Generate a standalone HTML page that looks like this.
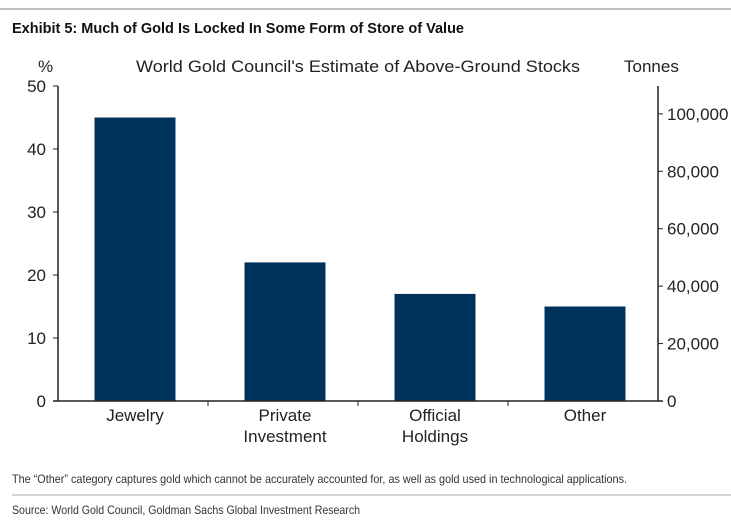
<!DOCTYPE html>
<html><head><meta charset="utf-8"><style>
body{margin:0;background:#fff;width:731px;height:530px;overflow:hidden;font-family:"Liberation Sans",Arial,sans-serif}
svg{display:block}
</style></head><body>
<svg id="chart" width="731" height="530">
<line x1="0" y1="9" x2="731" y2="9" stroke="#aaa" stroke-width="1.5"/>
<text x="12" y="33" font-size="15" font-weight="bold" fill="#111" textLength="452" lengthAdjust="spacingAndGlyphs">Exhibit 5: Much of Gold Is Locked In Some Form of Store of Value</text>
<text x="136" y="72" font-size="17" fill="#222" textLength="444" lengthAdjust="spacingAndGlyphs">World Gold Council's Estimate of Above-Ground Stocks</text>
<text x="38" y="72" font-size="17" fill="#222">%</text>
<text x="624" y="72" font-size="17" fill="#222">Tonnes</text>
<g id="plot"></g>
<text x="12" y="483" font-size="12" fill="#333" textLength="615" lengthAdjust="spacingAndGlyphs">The “Other” category captures gold which cannot be accurately accounted for, as well as gold used in technological applications.</text>
<line x1="12" y1="495" x2="731" y2="495" stroke="#aaa" stroke-width="1"/>
<text x="12" y="514" font-size="12" fill="#333" textLength="348" lengthAdjust="spacingAndGlyphs">Source: World Gold Council, Goldman Sachs Global Investment Research</text>
</svg>
<script>
const categories=[["Jewelry"],["Private","Investment"],["Official","Holdings"],["Other"]];
const values=[45,22,17,15];
const leftTicks=[0,10,20,30,40,50];
const rightTicks=[0,20000,40000,60000,80000,100000];
const rightTickLabels=["0","20,000","40,000","60,000","80,000","100,000"];

const NS="http://www.w3.org/2000/svg";
const g=document.getElementById("plot");
const X0=58,X1=658,Y0=401,Y1=86,LMAX=50,RMAX=109700;
const yL=v=>Y0-(v/LMAX)*(Y0-Y1);
const yR=v=>Y0-(v/RMAX)*(Y0-Y1);
const band=(X1-X0)/categories.length;
function mk(t,a){const e=document.createElementNS(NS,t);for(const k in a)e.setAttribute(k,a[k]);g.appendChild(e);return e;}

values.forEach((v,i)=>{
  const cx=X0+band*(i+0.5)+2,w=81;
  const r=mk("rect",{x:cx-w/2,y:yL(v),width:w,height:Y0-yL(v),fill:"#00335c"});
  
  
  categories[i].forEach((ln,j)=>{
    const t=mk("text",{x:cx,y:Y0+20+j*21,"font-size":17,"text-anchor":"middle",fill:"#222"});
    t.textContent=ln;
    
    
  });
});
let a=mk("line",{x1:X0,y1:Y1,x2:X0,y2:Y0,stroke:"#222","stroke-width":1.5});


a=mk("line",{x1:X1,y1:Y1,x2:X1,y2:Y0,stroke:"#222","stroke-width":1.5});


a=mk("line",{x1:X0-5,y1:Y0,x2:X1+5,y2:Y0,stroke:"#222","stroke-width":1.5});


for(let i=1;i<categories.length;i++){
  const tk=mk("line",{x1:X0+band*i,y1:Y0,x2:X0+band*i,y2:Y0+5,stroke:"#222"});
  
  
}
leftTicks.forEach(v=>{
  const tk=mk("line",{x1:X0-5,y1:yL(v),x2:X0,y2:yL(v),stroke:"#222"});
  
  
  const t=mk("text",{x:X0-12,y:yL(v)+6,"font-size":17,"text-anchor":"end",fill:"#222"});
  t.textContent=v;
  
  
});
rightTicks.forEach((v,i)=>{
  const tk=mk("line",{x1:X1,y1:yR(v),x2:X1+5,y2:yR(v),stroke:"#222"});
  
  
  const t=mk("text",{x:X1+9,y:yR(v)+6,"font-size":17,fill:"#222"});
  t.textContent=rightTickLabels[i];
  
  
});
</script>
</body></html>
